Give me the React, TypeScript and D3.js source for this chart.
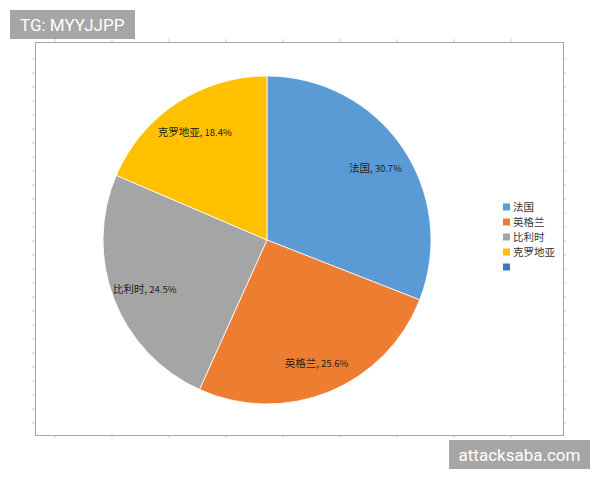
import React from "react";
import * as d3 from "d3";

const categories = ["法国", "英格兰", "比利时", "克罗地亚", ""];
const shares = [30.7, 25.6, 24.5, 18.4, 0];
const colors = ["#5B9BD5", "#ED7D31", "#A5A5A5", "#FFC000", "#4472C4"];

const W = 600;
const H = 480;
const frame = { left: 35, top: 42, right: 563, bottom: 435 };
const cx = 267;
const cy = 240;
const radius = 164;

type Slice = { name: string; value: number; color: string };

export default function App() {
    const data: Slice[] = categories.map((name, i) => ({ name, value: shares[i], color: colors[i] }));

    const pie = d3.pie<Slice>().sort(null).value(d => d.value);
    const arcs = pie(data).filter(a => a.data.value > 0);
    const arcGen = d3.arc<d3.PieArcDatum<Slice>>().innerRadius(0).outerRadius(radius);
    const labelArc = d3.arc<d3.PieArcDatum<Slice>>().innerRadius(radius * 0.8).outerRadius(radius * 0.8);

    // legend rows
    const legendY = d3.scalePoint<string>().domain(categories.map((c, i) => i + ":" + c)).range([207, 267]);

    // sheet cell boundaries peeking out around the chart frame
    const colTicks = d3.range(55, frame.right, 57);
    const rowTicks = d3.range(59, frame.bottom, 14);

    return (
        <div style={{ position: "absolute", left: 0, top: 0 }}>
            <svg width={W} height={H} style={{ display: "block", background: "#fff" }}>
                <g stroke="#cfcfcf" strokeWidth={1}>
                    {colTicks.map(x => (
                        <g key={"c" + x}>
                            <line x1={x} x2={x} y1={frame.top - 3} y2={frame.top} />
                            <line x1={x} x2={x} y1={frame.bottom} y2={frame.bottom + 3} />
                        </g>
                    ))}
                    {rowTicks.map(y => (
                        <g key={"r" + y}>
                            <line x1={frame.left - 3} x2={frame.left} y1={y} y2={y} />
                            <line x1={frame.right} x2={frame.right + 3} y1={y} y2={y} />
                        </g>
                    ))}
                </g>
                <rect x={frame.left + 0.5} y={frame.top + 0.5}
                    width={frame.right - frame.left} height={frame.bottom - frame.top}
                    fill="#fff" stroke="#a6a6a6" strokeWidth={1} />

                <g transform={`translate(${cx},${cy})`}>
                    {arcs.map(a => (
                        <path key={a.data.name} d={arcGen(a) || ""} fill={a.data.color}
                            stroke="#fff" strokeWidth={0.8} />
                    ))}
                    {arcs.map(a => {
                        const [lx, ly] = labelArc.centroid(a);
                        return (
                            <text key={"l" + a.data.name} x={lx} y={ly} dy="0.35em" textAnchor="middle"
                                fontFamily="'Noto Sans CJK SC', 'Noto Sans', sans-serif" fill="#1e1e1e">
                                <tspan fontSize={10.5}>{a.data.name}</tspan>
                                <tspan fontSize={9.5}>, {a.data.value.toFixed(1)}%</tspan>
                            </text>
                        );
                    })}
                </g>

                <g fontFamily="'Noto Sans CJK SC', sans-serif" fontSize={10.5} fill="#333">
                    {data.map((d, i) => {
                        const y = legendY(i + ":" + d.name) as number;
                        return (
                            <g key={"lg" + i} transform={`translate(503,${y})`}>
                                <rect x={0} y={-3.5} width={7} height={7} fill={d.color} />
                                <text x={10} y={0} dy="0.36em">{d.name}</text>
                            </g>
                        );
                    })}
                </g>

                <rect x={10} y={10} width={125} height={29} fill="#a6a6a6" />
                <text x={20} y={31} fill="#fff" fontSize={17} fontFamily="Roboto, 'Liberation Sans', sans-serif">TG: MYYJJPP</text>

                <rect x={449} y={440} width={141} height={29} fill="#a6a6a6" />
                <text x={519.5} y={461} textAnchor="middle" fill="#fff" fontSize={17}
                    fontFamily="Roboto, 'Liberation Sans', sans-serif">attacksaba.com</text>
            </svg>
        </div>
    );
}
